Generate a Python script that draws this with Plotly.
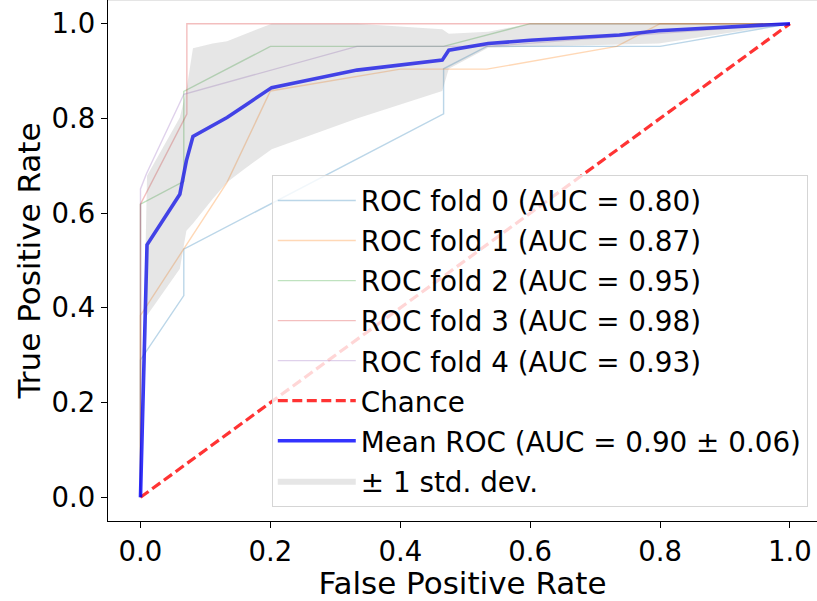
import plotly.graph_objects as go

# ---- data ----
fold_names = ["ROC fold 0 (AUC = 0.80)", "ROC fold 1 (AUC = 0.87)", "ROC fold 2 (AUC = 0.95)",
              "ROC fold 3 (AUC = 0.98)", "ROC fold 4 (AUC = 0.93)"]
fold0_fpr = [0.0, 0.0, 0.0667, 0.0667, 0.4667, 0.4667, 0.5333, 0.8, 1.0]
fold0_tpr = [0.0, 0.29, 0.426, 0.524, 0.8095, 0.9048, 0.952, 0.952, 1.0]
fold1_fpr = [0.0, 0.0, 0.1333, 0.2, 0.4, 0.5333, 0.7333, 0.8, 1.0]
fold1_tpr = [0.0, 0.384, 0.665, 0.858, 0.904, 0.904, 0.952, 1.0, 1.0]
fold2_fpr = [0.0, 0.0, 0.0667, 0.0667, 0.2, 0.4667, 0.6, 1.0]
fold2_tpr = [0.0, 0.619, 0.667, 0.857, 0.952, 0.952, 1.0, 1.0]
fold3_fpr = [0.0, 0.0, 0.0714, 0.0714, 1.0]
fold3_tpr = [0.0, 0.619, 0.809, 1.0, 1.0]
fold4_fpr = [0.0, 0.0, 0.0092, 0.0667, 0.3333, 0.5333, 1.0]
fold4_tpr = [0.0, 0.651, 0.683, 0.851, 0.952, 0.952, 1.0]
fold_fprs = [fold0_fpr, fold1_fpr, fold2_fpr, fold3_fpr, fold4_fpr]
fold_tprs = [fold0_tpr, fold1_tpr, fold2_tpr, fold3_tpr, fold4_tpr]
fold_colors = ["rgba(31,119,180,0.3)", "rgba(255,127,14,0.3)", "rgba(44,160,44,0.3)",
               "rgba(214,39,40,0.3)", "rgba(148,103,189,0.3)"]

chance_x = [0.0, 1.0]
chance_y = [0.0, 1.0]

mean_fpr = [0.0, 0.0101, 0.0606, 0.0707, 0.0808, 0.1111, 0.1333, 0.1616, 0.2020, 0.3333,
            0.4646, 0.4747, 0.5354, 0.6, 0.7374, 0.7980, 1.0]
mean_tpr = [0.0, 0.533, 0.640, 0.711, 0.762, 0.785, 0.802, 0.828, 0.865, 0.902,
            0.923, 0.944, 0.958, 0.965, 0.976, 0.985, 1.0]
tpr_upper = [0.0, 0.679, 0.802, 0.86, 0.948, 0.958, 0.963, 0.978, 1.0, 1.0,
             0.988, 0.979, 0.983, 1.0, 1.0, 1.0, 1.0]
tpr_lower = [0.0, 0.384, 0.4825, 0.563, 0.578, 0.63, 0.665, 0.695, 0.735, 0.80,
             0.858, 0.905, 0.949, 0.951, 0.956, 0.958, 1.0]

mean_name = "Mean ROC (AUC = 0.90 \u00b1 0.06)"
std_name = "\u00b1 1 std. dev."
tick_vals = [0.0, 0.2, 0.4, 0.6, 0.8, 1.0]
tick_text = ["0.0", "0.2", "0.4", "0.6", "0.8", "1.0"]

# ---- figure ----
fig = go.Figure()
for i, (name, fx, fy, col) in enumerate(zip(fold_names, fold_fprs, fold_tprs, fold_colors)):
    fig.add_trace(go.Scatter(x=fx, y=fy, mode="lines", name=name, legendgroup=f"g{i}",
                             line=dict(color=col, width=1.4)))
fig.add_trace(go.Scatter(x=chance_x, y=chance_y, mode="lines", name="Chance", legendgroup="gc",
                         line=dict(color="rgba(255,0,0,0.8)", width=3.2, dash="10px,4.5px")))
fig.add_trace(go.Scatter(x=mean_fpr, y=mean_tpr, mode="lines", name=mean_name, legendgroup="gm",
                         line=dict(color="rgba(0,0,255,0.8)", width=3.6)))
fig.add_trace(go.Scatter(x=mean_fpr, y=tpr_lower, mode="lines", showlegend=False, legendgroup="gs",
                         line=dict(width=0, color="rgba(128,128,128,0)"), hoverinfo="skip"))
fig.add_trace(go.Scatter(x=mean_fpr, y=tpr_upper, mode="lines", name=std_name, legendgroup="gs",
                         fill="tonexty", fillcolor="rgba(128,128,128,0.2)",
                         line=dict(width=0, color="rgba(128,128,128,0)")))

axis_common = dict(
    showline=True, linecolor="black", linewidth=1.3,
    ticks="outside", ticklen=6, tickwidth=1.3, tickcolor="black",
    showgrid=False, zeroline=False,
    tickvals=tick_vals, ticktext=tick_text,
    tickfont=dict(size=27.5, color="black"),
    automargin=False,
)

fig.update_layout(
    width=817, height=601,
    margin=dict(l=108, r=0, t=0, b=80),
    paper_bgcolor="white", plot_bgcolor="white",
    font=dict(family="DejaVu Sans", color="black"),
    xaxis=dict(range=[-0.05, 1.0416],
               title=dict(text="False Positive Rate", font=dict(size=31), standoff=0),
               **axis_common),
    yaxis=dict(range=[-0.05, 1.05],
               title=dict(text="True Positive Rate", font=dict(size=31), standoff=1),
               **axis_common),
    legend=dict(x=0.987, xanchor="right", y=0.027, yanchor="bottom",
                traceorder="grouped", tracegroupgap=0.9, itemwidth=78,
                bgcolor="rgba(255,255,255,0.8)", bordercolor="#d5d5d5", borderwidth=1,
                font=dict(size=27.8, color="black")),
    shapes=[dict(type="line", xref="paper", yref="paper", x0=0, x1=1, y0=1, y1=1,
                 line=dict(color="#cccccc", width=1))],
)

fig.write_html("out.html", config={"displayModeBar": False},
               post_script="document.body.style.margin='0';document.body.style.overflow='hidden';")
